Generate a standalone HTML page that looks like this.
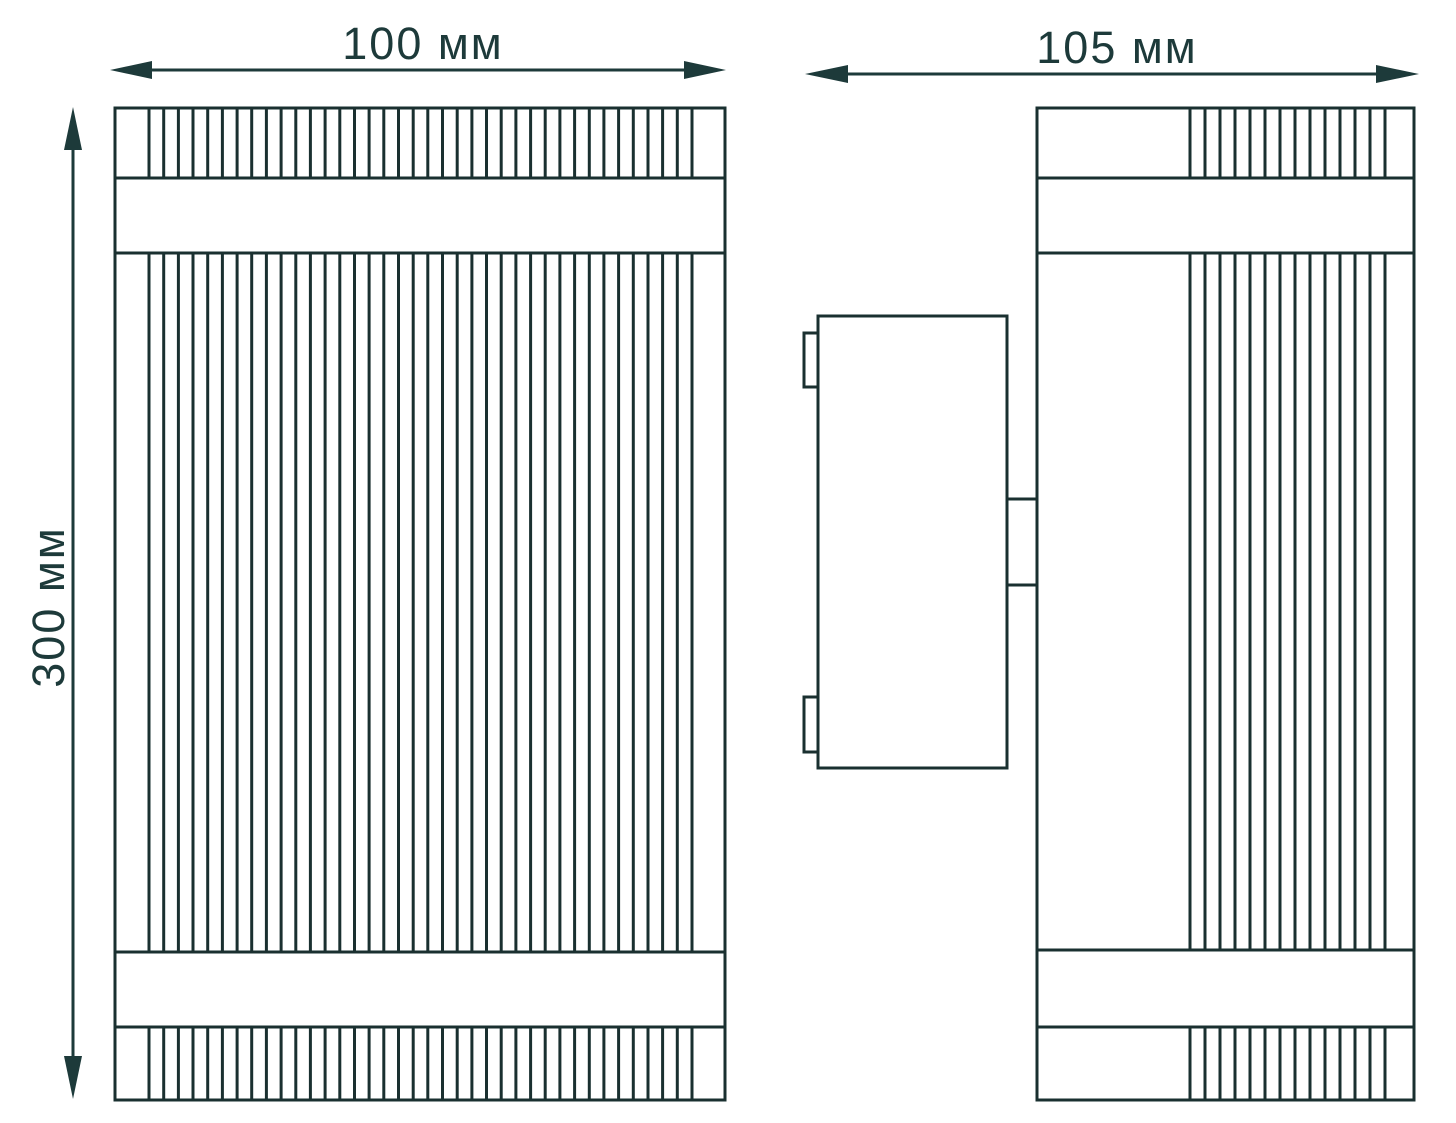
<!DOCTYPE html>
<html><head><meta charset="utf-8"><style>
html,body{margin:0;padding:0;background:#fff;width:1456px;height:1123px;overflow:hidden}
svg{display:block}
text{font-family:"Liberation Sans",sans-serif;fill:#1d3a3a;letter-spacing:2px}
</style></head><body>
<svg id="s" width="1456" height="1123" viewBox="0 0 1456 1123" xmlns="http://www.w3.org/2000/svg">
<g fill="none" stroke="#1a3030" stroke-width="3">
<rect x="115" y="108" width="610" height="992"/>
<line x1="115" y1="178" x2="725" y2="178"/>
<line x1="115" y1="253" x2="725" y2="253"/>
<line x1="115" y1="952" x2="725" y2="952"/>
<line x1="115" y1="1027" x2="725" y2="1027"/>
<rect x="1037" y="108" width="377" height="992"/>
<line x1="1037" y1="178" x2="1414" y2="178"/>
<line x1="1037" y1="253" x2="1414" y2="253"/>
<line x1="1037" y1="950" x2="1414" y2="950"/>
<line x1="1037" y1="1027" x2="1414" y2="1027"/>
<rect x="818" y="316" width="189" height="452"/>
<rect x="804" y="333" width="14" height="54"/>
<rect x="804" y="697" width="14" height="55"/>
<rect x="1007" y="499" width="30" height="86"/>
<g id="fins"></g>
</g>
<g fill="#1d3a3a" stroke="#1d3a3a" stroke-width="3">
<line x1="140" y1="70" x2="700" y2="70"/>
<polygon points="110,70 152,61 152,79" stroke="none"/>
<polygon points="726,70 684,61 684,79" stroke="none"/>
<line x1="835" y1="74" x2="1390" y2="74"/>
<polygon points="805,74 848,65 848,83" stroke="none"/>
<polygon points="1419,74 1376,65 1376,83" stroke="none"/>
<line x1="73" y1="140" x2="73" y2="1068"/>
<polygon points="73,107 64,150 82,150" stroke="none"/>
<polygon points="73,1099 64,1056 82,1056" stroke="none"/>
</g>
<text x="423" y="59" font-size="45" text-anchor="middle">100 мм</text>
<text x="1117" y="63" font-size="45" text-anchor="middle">105 мм</text>
<text x="0" y="0" font-size="45" text-anchor="middle" transform="translate(64,607) rotate(-90)">300 мм</text>
</svg>
<script>
var g=document.getElementById('fins'),h='';
function seg(x,y1,y2){h+='<line x1="'+x+'" y1="'+y1+'" x2="'+x+'" y2="'+y2+'"/>';}
for(var i=0;i<38;i++){var x=149+i*(692-149)/37;x=Math.round(x*10)/10;seg(x,108,178);seg(x,253,952);seg(x,1027,1100);}
for(var j=0;j<14;j++){var x=1190+j*(1385-1190)/13;x=Math.round(x*10)/10;seg(x,108,178);seg(x,253,950);seg(x,1027,1100);}
g.innerHTML=h;
</script>
</body></html>
